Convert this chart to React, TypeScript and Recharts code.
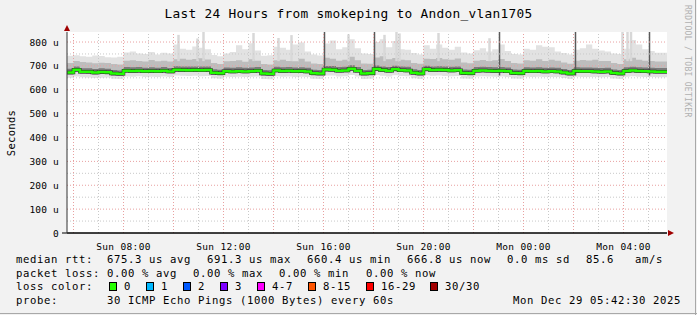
import React from 'react';
import { ComposedChart, Area, Line, XAxis, YAxis, CartesianGrid, ReferenceLine, ReferenceDot } from 'recharts';

// time in hours since Sun 00:00 (15-minute steps)
const times = [
  5.75, 6, 6.25, 6.5, 6.75, 7, 7.25, 7.5,
  7.75, 8, 8.25, 8.5, 8.75, 9, 9.25, 9.5,
  9.75, 10, 10.25, 10.5, 10.75, 11, 11.25, 11.5,
  11.75, 12, 12.25, 12.5, 12.75, 13, 13.25, 13.5,
  13.75, 14, 14.25, 14.5, 14.75, 15, 15.25, 15.5,
  15.75, 16, 16.25, 16.5, 16.75, 17, 17.25, 17.5,
  17.75, 18, 18.25, 18.5, 18.75, 19, 19.25, 19.5,
  19.75, 20, 20.25, 20.5, 20.75, 21, 21.25, 21.5,
  21.75, 22, 22.25, 22.5, 22.75, 23, 23.25, 23.5,
  23.75, 24, 24.25, 24.5, 24.75, 25, 25.25, 25.5,
  25.75, 26, 26.25, 26.5, 26.75, 27, 27.25, 27.5,
  27.75, 28, 28.25, 28.5, 28.75, 29, 29.25, 29.5,
  29.75,
];

// median rtt (microseconds)
const median = [
  672, 684, 676, 675, 672, 674, 673, 668,
  667, 680, 679, 680, 678, 679, 678, 680,
  677, 684, 683, 682, 683, 682, 683, 671,
  669, 678, 677, 678, 677, 678, 680, 668,
  667, 681, 679, 680, 678, 679, 677, 669,
  668, 685, 684, 680, 681, 688, 680, 668,
  669, 687, 683, 680, 686, 682, 681, 671,
  668, 686, 683, 684, 683, 681, 682, 670,
  669, 680, 681, 680, 679, 680, 678, 670,
  669, 679, 678, 679, 677, 678, 677, 672,
  668, 679, 678, 678, 677, 676, 677, 670,
  668, 679, 681, 679, 678, 677, 676, 676,
  676,
];

// smoke: lowest ping
const smokeLo = [
  650, 656, 652, 651, 649, 650, 651, 646,
  645, 656, 655, 657, 654, 655, 654, 656,
  653, 660, 659, 658, 659, 657, 658, 648,
  646, 655, 654, 655, 653, 655, 656, 645,
  644, 657, 655, 656, 654, 655, 653, 646,
  645, 660, 660, 656, 657, 662, 656, 645,
  646, 662, 659, 656, 661, 658, 657, 648,
  645, 661, 659, 660, 658, 657, 658, 647,
  646, 656, 657, 656, 655, 656, 654, 647,
  646, 655, 654, 655, 653, 654, 653, 649,
  645, 655, 654, 654, 653, 652, 653, 647,
  645, 655, 657, 655, 654, 653, 652, 652,
  652,
];

// smoke: dense band bottom
const smokeQ1 = [
  664, 676, 668, 667, 664, 666, 665, 660,
  659, 672, 671, 672, 670, 671, 670, 672,
  669, 676, 675, 674, 675, 674, 675, 663,
  661, 670, 669, 670, 669, 670, 672, 660,
  659, 673, 671, 672, 670, 671, 669, 661,
  660, 677, 676, 672, 673, 680, 672, 660,
  661, 679, 675, 672, 678, 674, 673, 663,
  660, 678, 675, 676, 675, 673, 674, 662,
  661, 672, 673, 672, 671, 672, 670, 662,
  661, 671, 670, 671, 669, 670, 669, 664,
  660, 671, 670, 670, 669, 668, 669, 662,
  660, 671, 673, 671, 670, 669, 668, 668,
  668,
];

// smoke: dense band top
const smokeQ3 = [
  688, 698, 690, 690, 687, 690, 688, 683,
  681, 695, 694, 695, 692, 694, 692, 695,
  691, 699, 698, 697, 698, 697, 697, 686,
  684, 693, 692, 694, 692, 693, 695, 683,
  682, 696, 694, 695, 693, 694, 692, 684,
  683, 700, 700, 695, 696, 703, 695, 683,
  684, 702, 698, 695, 701, 697, 696, 686,
  683, 701, 698, 699, 698, 696, 697, 685,
  684, 695, 696, 695, 694, 695, 693, 685,
  684, 694, 693, 694, 692, 693, 692, 687,
  683, 694, 693, 693, 692, 691, 692, 685,
  683, 694, 696, 694, 693, 692, 691, 691,
  691,
];

// smoke: upper band top
const smokeP90 = [
  712, 720, 716, 714, 711, 713, 712, 708,
  706, 722, 724, 720, 718, 725, 719, 722,
  718, 728, 730, 726, 729, 732, 727, 712,
  708, 719, 721, 724, 717, 728, 722, 708,
  706, 724, 726, 721, 719, 730, 718, 710,
  708, 734, 730, 722, 726, 738, 724, 710,
  709, 735, 740, 728, 733, 726, 724, 712,
  709, 730, 729, 733, 728, 726, 731, 714,
  711, 722, 725, 721, 724, 729, 720, 712,
  710, 724, 722, 728, 721, 726, 722, 714,
  709, 722, 725, 723, 726, 720, 721, 712,
  708, 728, 734, 726, 722, 720, 718, 718,
  718,
];

// smoke: highest ping
const smokeMax = [
  742, 745, 740, 738, 744, 741, 736, 735,
  738, 756, 760, 752, 750, 758, 748, 755,
  752, 790, 772, 768, 781, 776, 770, 746,
  740, 752, 758, 786, 770, 795, 764, 742,
  745, 780, 776, 768, 790, 798, 760, 748,
  744, 794, 806, 770, 778, 812, 774, 752,
  750, 800, 812, 778, 804, 770, 768, 754,
  748, 786, 772, 790, 776, 768, 780, 756,
  752, 766, 774, 760, 770, 790, 762, 750,
  748, 772, 768, 786, 780, 778, 760, 754,
  748, 768, 774, 790, 772, 764, 760, 752,
  750, 772, 808, 790, 770, 762, 755, 755,
  755,
];

// isolated tall light-grey columns
const lightSpikeTimes = [10.2, 10.96, 11.2, 13.2, 14.2, 14.72, 17.0, 18.44, 18.92, 19.04, 20.6, 22.64, 27.96, 28.16, 28.3];
const lightSpikeTops = [830, 815, 845, 838, 817, 829, 832, 830, 842, 836, 838, 816, 846, 846, 846];
const lightSpikeBase = [720, 720, 720, 720, 720, 720, 720, 720, 720, 720, 720, 720, 720, 720, 720];

// isolated dark max spikes
const darkSpikeTimes = [16.04, 18.04, 23.04, 26.08, 29.04];
const darkSpikeTops = [846, 846, 846, 846, 846];
const darkSpikeBase = [660, 660, 660, 660, 660];

const xTicks = [8, 12, 16, 20, 24, 28];
const xMajorLines = [6, 8, 10, 12, 14, 16, 18, 20, 22, 24, 26, 28];
const xMinorLines = [7, 9, 11, 13, 15, 17, 19, 21, 23, 25, 27, 29];
const yTicks = [0, 100, 200, 300, 400, 500, 600, 700, 800];
const yMajorLines = [100, 200, 300, 400, 500, 600, 700, 800];
const yMinorLines = [50, 150, 250, 350, 450, 550, 650, 750];

const X_MIN = 5.74;
const X_MAX = 29.74;
const Y_MAX = 842;

const data = times.map((t, i) => ({
  t,
  median: median[i],
  light: [smokeLo[i], smokeMax[i]],
  mid: [smokeQ1[i], smokeP90[i]],
  dark: [smokeQ1[i], smokeQ3[i]],
}));

const FONT = '"DejaVu Sans Mono", monospace';

const fmtX = (t: number) => {
  const day = t < 24 ? 'Sun' : 'Mon';
  const h = Math.round(t % 24);
  return `${day} ${h < 10 ? '0' + h : h}:00`;
};

const XTick = (props: any) => {
  const { x, y, payload } = props;
  return (
    <text x={x} y={y + 9} textAnchor="middle" fontFamily={FONT} fontSize={9.5} letterSpacing={0.35} fill="#000">
      {fmtX(payload.value)}
    </text>
  );
};

const YTick = (props: any) => {
  const { y, payload } = props;
  return (
    <text x={59} y={y + 3.5} textAnchor="end" fontFamily={FONT} fontSize={9.5} letterSpacing={0.2} fill="#000">
      {payload.value === 0 ? '0' : `${payload.value} u`}
    </text>
  );
};

const legendRows: { x: number; y: number; s: string }[] = [
  { x: 16, y: 262.7, s: 'median rtt:' },
  { x: 107, y: 262.7, s: '675.3 us avg' },
  { x: 207, y: 262.7, s: '691.3 us max' },
  { x: 307, y: 262.7, s: '660.4 us min' },
  { x: 407, y: 262.7, s: '666.8 us now' },
  { x: 507, y: 262.7, s: '0.0 ms sd' },
  { x: 586, y: 262.7, s: '85.6' },
  { x: 635, y: 262.7, s: 'am/s' },
  { x: 16, y: 276.6, s: 'packet loss:' },
  { x: 107, y: 276.6, s: '0.00 % avg' },
  { x: 193, y: 276.6, s: '0.00 % max' },
  { x: 279, y: 276.6, s: '0.00 % min' },
  { x: 366, y: 276.6, s: '0.00 % now' },
  { x: 16, y: 290.4, s: 'loss color:' },
  { x: 16, y: 304.3, s: 'probe:' },
  { x: 107, y: 304.3, s: '30 ICMP Echo Pings (1000 Bytes) every 60s' },
  { x: 513, y: 304.3, s: 'Mon Dec 29 05:42:30 2025' },
];

const lossLabels = ['0', '1', '2', '3', '4-7', '8-15', '16-29', '30/30'];
const lossColors = ['#26ff00', '#00b8ff', '#0059ff', '#7e00ff', '#ff00ff', '#ff5500', '#ff0000', '#a10000'];
const lossBoxX = [109, 146, 183, 220, 257, 308, 366, 430];

export default function App() {
  return (
    <div style={{ position: 'absolute', left: 0, top: 0, width: 697, height: 315, background: '#f2f2f2', overflow: 'hidden' }}>
      <ComposedChart
        width={697}
        height={315}
        data={data}
        margin={{ top: 32, right: 30, bottom: 0, left: 0 }}
        style={{ position: 'absolute', left: 0, top: 0 }}
      >
        <CartesianGrid fill="#ffffff" horizontal={false} vertical={false} />
        <XAxis
          type="number"
          dataKey="t"
          domain={[X_MIN, X_MAX]}
          allowDataOverflow
          ticks={xTicks}
          interval={0}
          tick={<XTick />}
          tickLine={false}
          axisLine={{ stroke: '#000', strokeWidth: 1 }}
          height={82}
        />
        <YAxis
          type="number"
          domain={[0, Y_MAX]}
          allowDataOverflow
          ticks={yTicks}
          interval={0}
          tick={<YTick />}
          tickLine={false}
          axisLine={{ stroke: '#333', strokeWidth: 1 }}
          width={67}
        />
        <Area type="stepAfter" dataKey="light" fill="#e2e2e2" fillOpacity={1} stroke="none" isAnimationActive={false} />
        {lightSpikeTimes.map((t, i) => (
          <ReferenceLine
            key={'ls' + i}
            segment={[{ x: t, y: lightSpikeBase[i] }, { x: t, y: lightSpikeTops[i] }]}
            stroke="#d8d8d8"
            strokeWidth={2.5}
            ifOverflow="hidden"
          />
        ))}
        <Area type="stepAfter" dataKey="mid" fill="#bdbdbd" fillOpacity={1} stroke="none" isAnimationActive={false} />
        <Area type="stepAfter" dataKey="dark" fill="#7a7a7a" fillOpacity={1} stroke="none" isAnimationActive={false} />
        {darkSpikeTimes.map((t, i) => (
          <ReferenceLine
            key={'ds' + i}
            segment={[{ x: t, y: darkSpikeBase[i] }, { x: t, y: darkSpikeTops[i] }]}
            stroke="#5a5a5a"
            strokeWidth={1.5}
            ifOverflow="hidden"
          />
        ))}
        {yMinorLines.map((v) => (
          <ReferenceLine key={'ym' + v} y={v} stroke="#c8c8c8" strokeDasharray="1 2" strokeWidth={1} />
        ))}
        {xMinorLines.map((v) => (
          <ReferenceLine key={'xm' + v} x={v} stroke="#c8c8c8" strokeDasharray="1 2" strokeWidth={1} />
        ))}
        {yMajorLines.map((v) => (
          <ReferenceLine key={'yM' + v} y={v} stroke="#e8a0a0" strokeDasharray="1 2" strokeWidth={1} />
        ))}
        {xMajorLines.map((v) => (
          <ReferenceLine key={'xM' + v} x={v} stroke="#e8a0a0" strokeDasharray="1 2" strokeWidth={1} />
        ))}
        <Line type="stepAfter" dataKey="median" stroke="#2a2a2a" strokeWidth={3.5} dot={false} isAnimationActive={false} />
        <Line type="stepAfter" dataKey="median" stroke="#22ff00" strokeWidth={2.5} dot={false} isAnimationActive={false} />
        <ReferenceLine
          segment={[{ x: X_MIN - 0.2, y: 0 }, { x: X_MAX, y: 0 }]}
          stroke="#000"
          strokeWidth={1}
          ifOverflow="visible"
        />
        <ReferenceDot
          x={X_MAX}
          y={0}
          ifOverflow="visible"
          shape={(p: any) => (
            <polygon points={`${p.cx + 1},${p.cy - 3} ${p.cx + 7},${p.cy} ${p.cx + 1},${p.cy + 3}`} fill="#a00000" />
          )}
        />
        <ReferenceDot
          x={X_MIN}
          y={Y_MAX}
          ifOverflow="visible"
          shape={(p: any) => (
            <polygon points={`${p.cx - 3},${p.cy - 1} ${p.cx},${p.cy - 7} ${p.cx + 3},${p.cy - 1}`} fill="#a00000" />
          )}
        />
      </ComposedChart>
      <svg width={697} height={315} style={{ position: 'absolute', left: 0, top: 0, pointerEvents: 'none' }}>
        <text x={348.5} y={18} textAnchor="middle" fontFamily={FONT} fontSize={12.8} letterSpacing={0.3} fill="#000">
          Last 24 Hours from smokeping to Andon_vlan1705
        </text>
        <text
          x={0}
          y={0}
          transform="translate(15,133) rotate(-90)"
          textAnchor="middle"
          fontFamily={FONT}
          fontSize={10.5}
          letterSpacing={0.3}
          fill="#000"
        >
          Seconds
        </text>
        <text
          x={0}
          y={0}
          transform="translate(685,5) rotate(90)"
          textAnchor="start"
          fontFamily={FONT}
          fontSize={8}
          letterSpacing={0.3}
          fill="#b0b0b0"
        >
          RRDTOOL / TOBI OETIKER
        </text>
        {legendRows.map((r, i) => (
          <text key={'lg' + i} x={r.x} y={r.y} fontFamily={FONT} fontSize={10.6} letterSpacing={0.62} fill="#000" style={{ whiteSpace: 'pre' }}>
            {r.s}
          </text>
        ))}
        {lossLabels.map((l, i) => (
          <g key={'lc' + i}>
            <rect x={lossBoxX[i] + 0.5} y={282.5} width={7} height={8} fill={lossColors[i]} stroke="#000" strokeWidth={1} />
            <text x={lossBoxX[i] + 15} y={290.4} fontFamily={FONT} fontSize={10.6} letterSpacing={0.62} fill="#000">
              {l}
            </text>
          </g>
        ))}
        <line x1={695.5} y1={0} x2={695.5} y2={315} stroke="#a8a8a8" strokeWidth={1} />
        <line x1={0} y1={313.5} x2={697} y2={313.5} stroke="#a8a8a8" strokeWidth={1} />
      </svg>
    </div>
  );
}
